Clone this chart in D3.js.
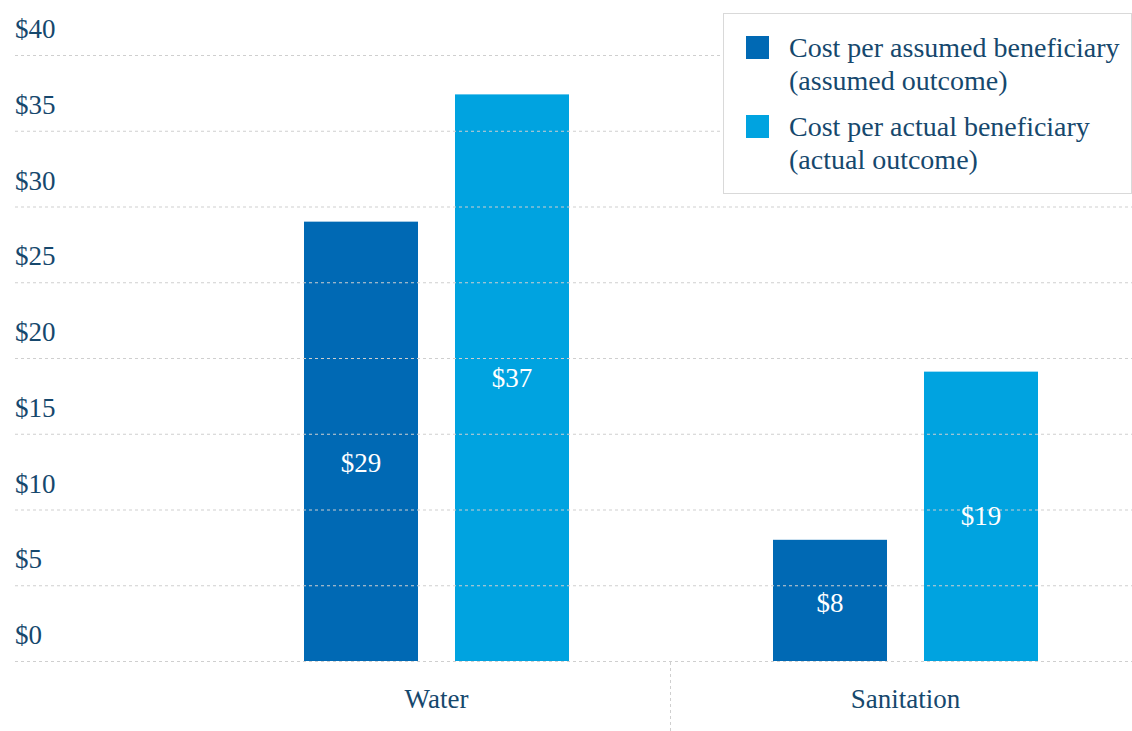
<!DOCTYPE html>
<html><head><meta charset="utf-8">
<script src="https://cdn.jsdelivr.net/npm/d3@7"></script>
<style>body{margin:0;background:#fff}svg{display:block}</style>
</head><body>
<svg id="c" width="1132" height="731"></svg>
<script>
const categories = ["Water", "Sanitation"];
const legendLines = [["Cost per assumed beneficiary", "(assumed outcome)"], ["Cost per actual beneficiary", "(actual outcome)"]];
const assumedValues = [29, 8];
const actualValues = [37.4, 19.1];
const valueLabels = [["$29", "$37"], ["$8", "$19"]];
const yTicks = [0, 5, 10, 15, 20, 25, 30, 35, 40];
const colors = ["#0069b4", "#00a3e0"];

const svg = d3.select("#c");
const font = "Liberation Serif";
const textColor = "#16486d";
const y = d3.scaleLinear().domain([0, 40]).range([661, 55]);
const x = d3.scaleBand().domain(categories).range([202, 1140]);
const xs = d3.scaleBand().domain([0, 1]).range([102, 367]).paddingInner(0.245);
// layout tweak: the reference places the first label lower than the bar centre
const labelNudge = [[22, 0], [3, 0]];

const data = categories.map((c, i) => ({cat: c, vals: [assumedValues[i], actualValues[i]], labels: valueLabels[i]}));

// bars
const bars = svg.append("g");
data.forEach(d => {
  d.vals.forEach((v, j) => {
    bars.append("rect").attr("x", x(d.cat) + xs(j)).attr("y", y(v)).attr("width", xs.bandwidth())
      .attr("height", y(0) - y(v)).attr("fill", colors[j]);
  });
});

// gridlines (drawn over bars) and y labels
const grid = svg.append("g");
yTicks.forEach(t => {
  grid.append("line").attr("x1", 15).attr("x2", 1132).attr("y1", y(t) + 0.5).attr("y2", y(t) + 0.5)
    .attr("stroke", "#cfcfcf").attr("stroke-width", 1).attr("stroke-dasharray", "3,3");
  svg.append("text").attr("x", 15).attr("y", y(t) - 17).text("$" + t)
    .attr("font-family", font).attr("font-size", 27).attr("fill", textColor);
});

// value labels
data.forEach((d, i) => {
  d.vals.forEach((v, j) => {
    const bx = x(d.cat) + xs(j) + xs.bandwidth() / 2;
    svg.append("text").attr("x", bx).attr("y", (y(v) + y(0)) / 2 + 9 + labelNudge[i][j]).attr("text-anchor", "middle")
      .text(d.labels[j]).attr("font-family", font).attr("font-size", 27).attr("fill", "#fff");
  });
});

// category separator
svg.append("line").attr("x1", 670.5).attr("x2", 670.5)
  .attr("y1", 662).attr("y2", 731).attr("stroke", "#cfcfcf").attr("stroke-dasharray", "3,3");

// category labels
categories.forEach(c => {
  svg.append("text").attr("x", x(c) + 102 + 265 / 2).attr("y", 708).attr("text-anchor", "middle")
    .text(c).attr("font-family", font).attr("font-size", 27).attr("fill", textColor);
});

// legend
const lg = svg.append("g");
lg.append("rect").attr("x", 723.5).attr("y", 13.5).attr("width", 408).attr("height", 180)
  .attr("fill", "#fff").attr("stroke", "#d9d9d9");
legendLines.forEach((lines, i) => {
  const top = 36 + i * 79;
  lg.append("rect").attr("x", 746).attr("y", top).attr("width", 23).attr("height", 23).attr("fill", colors[i]);
  lines.forEach((ln, k) => {
    lg.append("text").attr("x", 789).attr("y", top + 21 + k * 33).text(ln)
      .attr("font-family", font).attr("font-size", 28).attr("fill", textColor);
  });
});
</script>
</body></html>
